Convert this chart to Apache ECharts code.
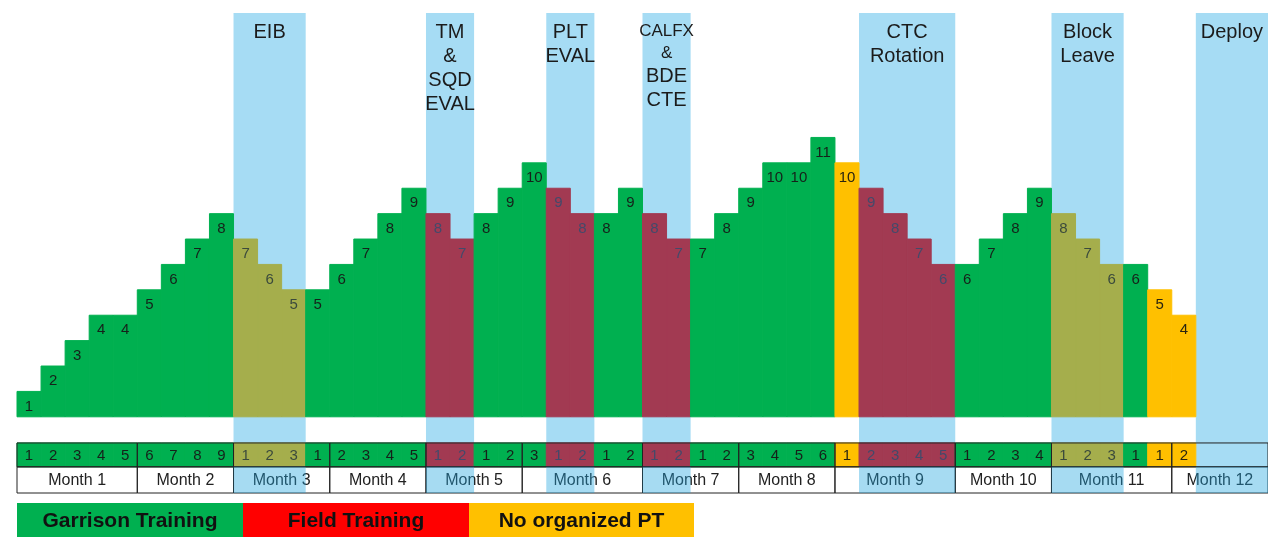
<!DOCTYPE html>
<html>
<head>
<meta charset="utf-8">
<script src="https://cdn.jsdelivr.net/npm/echarts@6/dist/echarts.min.js"></script>
<style>
html, body { margin: 0; padding: 0; background: #fff; }
#main { width: 1268px; height: 537px; }
</style>
</head>
<body>
<div id="main"></div>
<script>
// weekly PT level (height of each step)
const weekValues = [1, 2, 3, 4, 4, 5, 6, 7, 8, 7, 6, 5, 5, 6, 7, 8, 9, 8, 7, 8, 9, 10, 9, 8, 8, 9, 8, 7,
    7, 8, 9, 10, 10, 11, 10, 9, 8, 7, 6, 6, 7, 8, 9, 8, 7, 6, 6, 5, 4];
// G = garrison, O = garrison during event, R = field, Y = no organized PT
const weekTypes = ('GGGGGGGGG' + 'OOO' + 'GGGGG' + 'RR' + 'GGG' + 'RR' + 'GG' + 'RR' + 'GGGGGG' +
    'Y' + 'RRRR' + 'GGGG' + 'OOO' + 'G' + 'YY').split('');
const weekNumbers = [1, 2, 3, 4, 5, 6, 7, 8, 9, 1, 2, 3, 1, 2, 3, 4, 5, 1, 2, 1, 2, 3, 1, 2, 1, 2, 1, 2,
    1, 2, 3, 4, 5, 6, 1, 2, 3, 4, 5, 1, 2, 3, 4, 1, 2, 3, 1, 1, 2];

const monthLabels = ['Month 1', 'Month 2', 'Month 3', 'Month 4', 'Month 5', 'Month 6',
    'Month 7', 'Month 8', 'Month 9', 'Month 10', 'Month 11', 'Month 12'];
const monthStarts = [0, 5, 9, 13, 17, 21, 26, 30, 34, 39, 43, 48];
const monthEnds = [5, 9, 13, 17, 21, 26, 30, 34, 39, 43, 48, 52];

const bandLabels = ['EIB', 'TM\n&\nSQD\nEVAL', 'PLT\nEVAL', '{s|CALFX}\n{s|&}\n{b|BDE}\n{b|CTE}',
    'CTC\nRotation', 'Block\nLeave', 'Deploy'];
const bandStarts = [9, 17, 22, 26, 35, 43, 49];
const bandEnds = [12, 19, 24, 28, 39, 46, 52];

const legendNames = ['Garrison Training', 'Field Training', 'No organized PT'];

// styles
const FONT = '"Liberation Sans", Arial, sans-serif';
const typeColors = { G: '#00b050', O: '#a5ae4c', R: '#a23a52', Y: '#ffc000' };
const labelColors = { G: '#15211a', O: '#3b4a3c', R: '#434a6a', Y: '#2a2510' };
const legendColors = ['#00b050', '#ff0000', '#ffc000'];
const BLUE = '#a6dcf4';

// layout in y axis units
const Y_TOP = 15.9, WEEK_TOP = -1.03, WEEK_BOTTOM = -1.97, MONTH_BOTTOM = -3;

function rect(p0, p1) {
    return { x: p0[0], y: p0[1], width: p1[0] - p0[0], height: p1[1] - p0[1] };
}

function renderBand(params, api) {
    const a = api.coord([api.value(0), Y_TOP]);
    const b = api.coord([api.value(1), WEEK_BOTTOM]);
    return {
        type: 'group',
        children: [
            { type: 'rect', shape: rect(a, b), style: { fill: BLUE } },
            {
                type: 'text',
                style: {
                    text: bandLabels[params.dataIndex], x: (a[0] + b[0]) / 2, y: a[1] + 7,
                    align: 'center', verticalAlign: 'top', fill: '#1b1b1b',
                    fontFamily: FONT, fontSize: 20, lineHeight: 24,
                    rich: {
                        s: { fontFamily: FONT, fontSize: 17, lineHeight: 22, fill: '#1b1b1b' },
                        b: { fontFamily: FONT, fontSize: 20, lineHeight: 24, fill: '#1b1b1b' }
                    }
                }
            }
        ]
    };
}

function renderBandOverlay(params, api) {
    const a = api.coord([api.value(0), WEEK_BOTTOM]);
    const b = api.coord([api.value(1), MONTH_BOTTOM]);
    return { type: 'rect', shape: rect(a, b), style: { fill: 'rgba(33,165,222,0.4)' } };
}

function renderBar(params, api) {
    const i = api.value(0), v = api.value(1);
    const a = api.coord([i, v]);
    const b = api.coord([i + 1, 0]);
    const t = weekTypes[params.dataIndex];
    return {
        type: 'group',
        children: [
            {
                type: 'rect', shape: rect(a, b),
                style: { fill: typeColors[t], stroke: typeColors[t], lineWidth: 1 }
            },
            {
                type: 'text',
                style: {
                    text: String(v), x: (a[0] + b[0]) / 2, y: a[1] + 15,
                    align: 'center', verticalAlign: 'middle',
                    fill: labelColors[t], fontFamily: FONT, fontSize: 15
                }
            }
        ]
    };
}

function renderWeekCell(params, api) {
    const i = api.value(0);
    const a = api.coord([i, WEEK_TOP]);
    const b = api.coord([i + 1, WEEK_BOTTOM]);
    const t = weekTypes[params.dataIndex];
    return {
        type: 'group',
        children: [
            {
                type: 'rect', shape: rect(a, b),
                style: { fill: typeColors[t], stroke: typeColors[t], lineWidth: 1 }
            },
            {
                type: 'text',
                style: {
                    text: String(api.value(1)), x: (a[0] + b[0]) / 2, y: (a[1] + b[1]) / 2 + 1,
                    align: 'center', verticalAlign: 'middle',
                    fill: labelColors[t], fontFamily: FONT, fontSize: 15
                }
            }
        ]
    };
}

function renderMonth(params, api) {
    const s = api.value(0), e = api.value(1);
    const a = api.coord([s, WEEK_TOP]);
    const m = api.coord([e, WEEK_BOTTOM]);
    const m0 = api.coord([s, WEEK_BOTTOM]);
    const b = api.coord([e, MONTH_BOTTOM]);
    const line = { fill: null, stroke: '#222', lineWidth: 1 };
    return {
        type: 'group',
        children: [
            { type: 'rect', shape: rect(a, m), style: line },
            { type: 'rect', shape: rect(m0, b), style: line },
            {
                type: 'text',
                style: {
                    text: monthLabels[params.dataIndex], x: (a[0] + b[0]) / 2, y: (m0[1] + b[1]) / 2 + 1,
                    align: 'center', verticalAlign: 'middle',
                    fill: '#222', fontFamily: FONT, fontSize: 16
                }
            }
        ]
    };
}

const bandData = bandStarts.map((s, i) => [s, bandEnds[i]]);
const monthData = monthStarts.map((s, i) => [s, monthEnds[i]]);

const legendGraphics = [];
legendNames.forEach(function (name, i) {
    const x0 = [17, 243, 469][i];
    const w = [226, 226, 225][i];
    legendGraphics.push({
        type: 'rect', left: x0, top: 503, shape: { width: w, height: 40 },
        style: { fill: legendColors[i] }
    });
    legendGraphics.push({
        type: 'text', x: x0 + w / 2, y: 521,
        style: {
            text: name, align: 'center', verticalAlign: 'middle',
            fill: '#111', font: 'bold 21px ' + FONT
        }
    });
});

const option = {
    animation: false,
    backgroundColor: '#fff',
    grid: { left: 17, right: 0, top: 13, bottom: 44 },
    xAxis: { type: 'value', min: 0, max: 52, show: false },
    yAxis: { type: 'value', min: MONTH_BOTTOM, max: Y_TOP, show: false },
    graphic: legendGraphics,
    series: [
        { type: 'custom', name: 'bands', z: 1, renderItem: renderBand, data: bandData, silent: true },
        {
            type: 'custom', name: 'weeks', z: 2, renderItem: renderBar, silent: true,
            data: weekValues.map((v, i) => [i, v])
        },
        {
            type: 'custom', name: 'week cells', z: 2, renderItem: renderWeekCell, silent: true,
            data: weekNumbers.map((n, i) => [i, n])
        },
        { type: 'custom', name: 'months', z: 3, renderItem: renderMonth, data: monthData, silent: true },
        { type: 'custom', name: 'band overlay', z: 4, renderItem: renderBandOverlay, data: bandData, silent: true }
    ]
};

const myChart = echarts.init(document.getElementById('main'));
myChart.setOption(option);
</script>
</body>
</html>
